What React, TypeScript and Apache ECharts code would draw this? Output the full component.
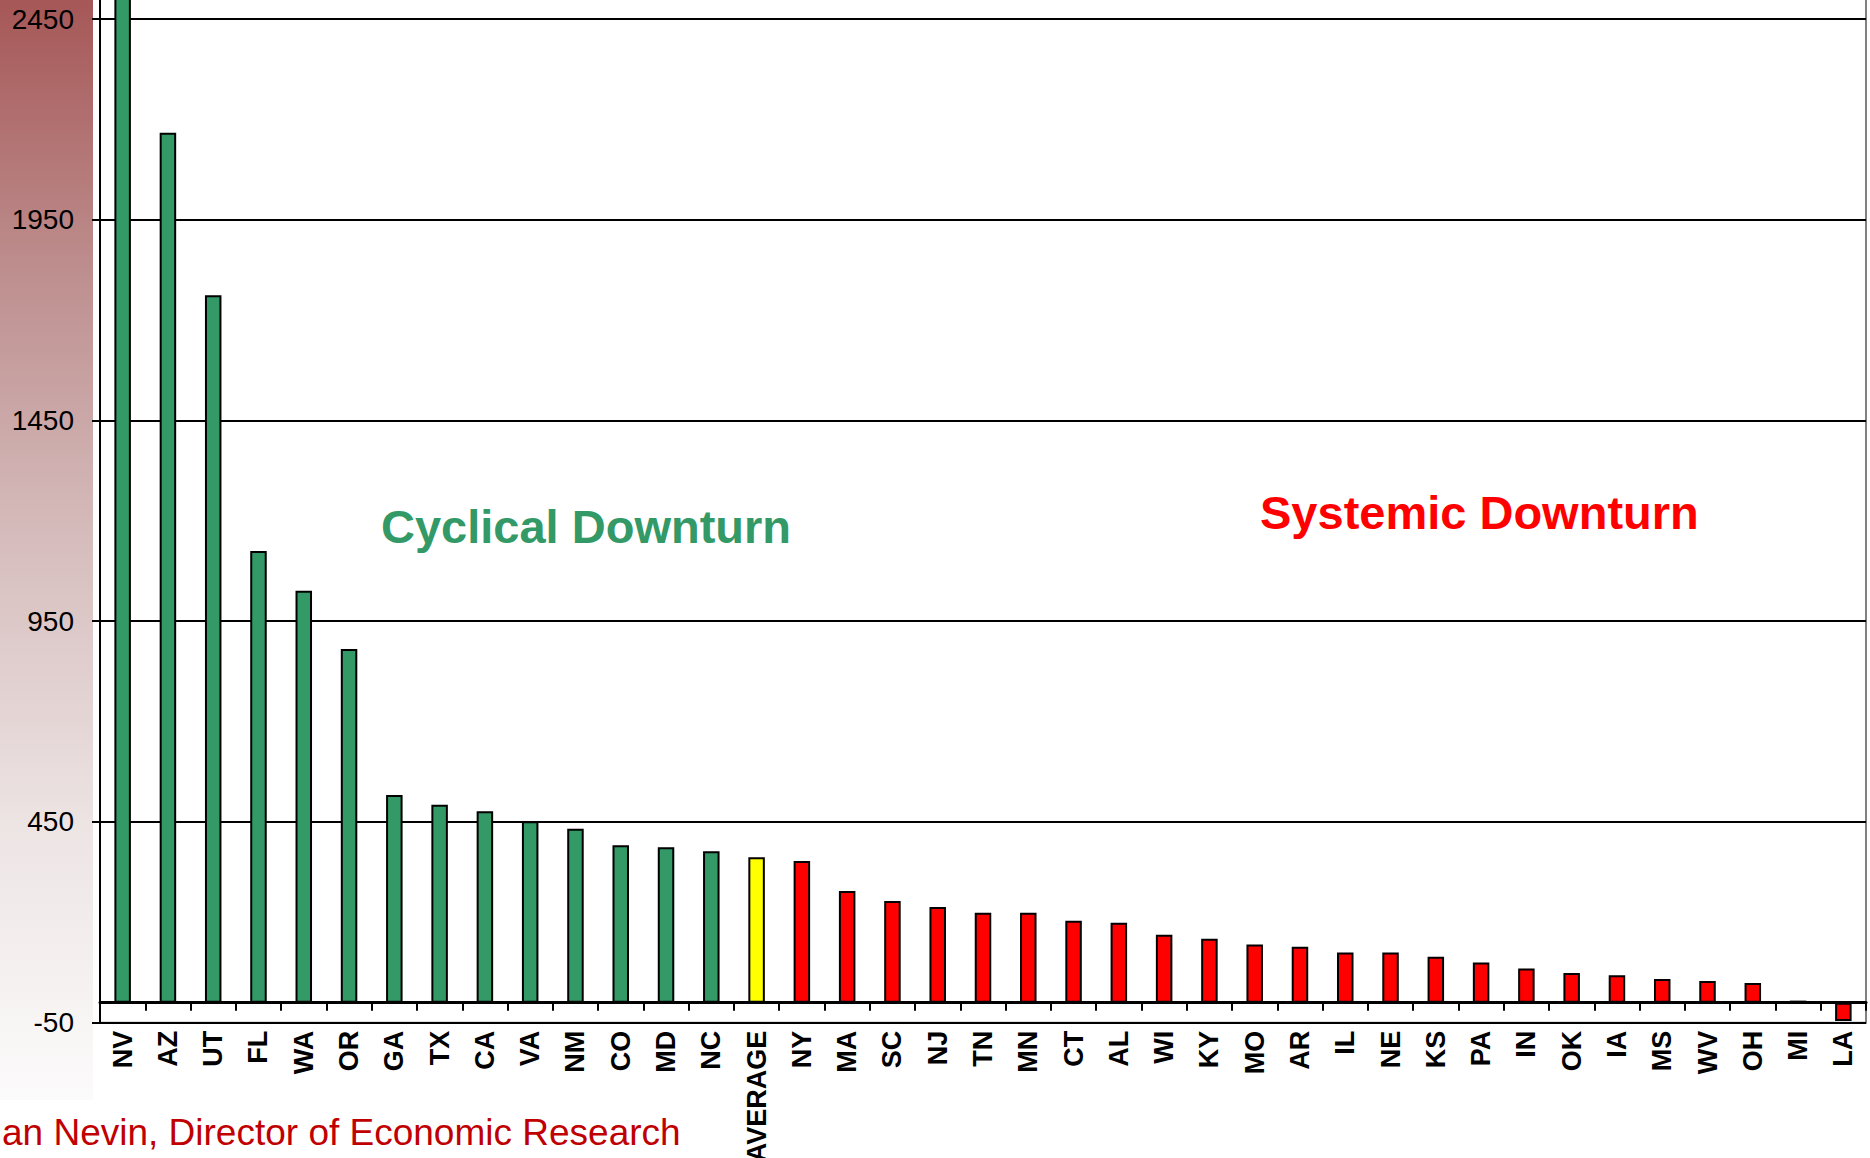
import React, { useEffect, useRef } from 'react';
import * as echarts from 'echarts';

// States whose downturn is cyclical, then the national average, then systemic ones
const cyclicalStates = ['NV', 'AZ', 'UT', 'FL', 'WA', 'OR', 'GA', 'TX', 'CA', 'VA', 'NM', 'CO', 'MD', 'NC'];
const cyclicalValues = [2700, 2167, 1762, 1125, 1026, 881, 517, 493, 477, 452, 433, 392, 387, 377];

const averageLabel = 'AVERAGE';
const averageValue = 362;

const systemicStates = [
  'NY', 'MA', 'SC', 'NJ', 'TN', 'MN', 'CT', 'AL', 'WI', 'KY', 'MO', 'AR',
  'IL', 'NE', 'KS', 'PA', 'IN', 'OK', 'IA', 'MS', 'WV', 'OH', 'MI', 'LA',
];
const systemicValues = [
  353, 278, 253, 238, 224, 224, 204, 199, 169, 159, 145, 139,
  125, 125, 114, 100, 85, 74, 68, 59, 54, 49, 5, -46,
];

const yTickValues = [-50, 450, 950, 1450, 1950, 2450];

const GREEN = '#339966';
const YELLOW = '#FFFF00';
const RED = '#FF0000';
const FONT = '"Liberation Sans", Arial, Helvetica, sans-serif';

export default function App() {
  const ref = useRef<HTMLDivElement>(null);

  useEffect(() => {
    if (!ref.current) return;
    const chart = echarts.init(ref.current, null, { renderer: 'svg' });

    const categories = [...cyclicalStates, averageLabel, ...systemicStates];
    const barData = [
      ...cyclicalValues.map((v) => ({ value: v, itemStyle: { color: GREEN } })),
      { value: averageValue, itemStyle: { color: YELLOW } },
      ...systemicValues.map((v) => ({ value: v, itemStyle: { color: RED } })),
    ];

    chart.setOption({
      animation: false,
      backgroundColor: '#ffffff',
      grid: {
        left: 100,
        right: 4,
        top: -181.7,
        bottom: 135.3,
        show: true,
        backgroundColor: 'transparent',
        borderColor: '#808080',
        borderWidth: 2,
        containLabel: false,
        outerBoundsMode: 'none',
      },
      graphic: [
        {
          type: 'rect',
          z: -10,
          shape: { x: 0, y: 0, width: 93, height: 1100 },
          style: {
            fill: {
              type: 'linear',
              x: 0, y: 0, x2: 0, y2: 1,
              colorStops: [
                { offset: 0, color: '#A65757' },
                { offset: 0.25, color: '#BE8F8F' },
                { offset: 0.5, color: '#D7BEBE' },
                { offset: 0.75, color: '#EDE4E4' },
                { offset: 1, color: '#FCFBFB' },
              ],
            },
          },
        },
        {
          type: 'text',
          z: 100,
          x: 381,
          y: 526,
          style: {
            text: 'Cyclical Downturn',
            font: `bold 47px ${FONT}`,
            fill: GREEN,
            verticalAlign: 'middle',
          },
        },
        {
          type: 'text',
          z: 100,
          x: 1260,
          y: 512,
          style: {
            text: 'Systemic Downturn',
            font: `bold 47px ${FONT}`,
            fill: RED,
            verticalAlign: 'middle',
          },
        },
        {
          type: 'text',
          z: 100,
          x: 2,
          y: 1132,
          style: {
            text: 'an Nevin, Director of Economic Research',
            font: `37px ${FONT}`,
            fill: '#C00000',
            verticalAlign: 'middle',
          },
        },
      ],
      xAxis: {
        type: 'category',
        data: categories,
        boundaryGap: true,
        axisLine: { show: true, onZero: true, lineStyle: { color: '#000', width: 3 } },
        axisTick: { show: true, length: 8, alignWithLabel: false, lineStyle: { color: '#000', width: 2 } },
        axisLabel: {
          show: true,
          interval: 0,
          rotate: 90,
          margin: 8,
          color: '#000',
          fontFamily: FONT,
          fontWeight: 'bold',
          fontSize: 27,
        },
        splitLine: { show: false },
      },
      yAxis: {
        type: 'value',
        min: -50,
        max: 2950,
        axisLine: { show: true, lineStyle: { color: '#000', width: 2 } },
        axisTick: {
          show: true,
          inside: false,
          length: 8,
          customValues: yTickValues,
          lineStyle: { color: '#000', width: 2 },
        },
        axisLabel: {
          show: true,
          customValues: yTickValues,
          formatter: (v: number) => String(v),
          margin: 26,
          color: '#000',
          fontFamily: FONT,
          fontSize: 28,
        },
        splitLine: { show: true, lineStyle: { color: '#000', width: 2 } },
      },
      series: [
        {
          type: 'bar',
          data: barData,
          barWidth: 16.5,
          itemStyle: { borderColor: '#000', borderWidth: 2 },
          z: 3,
        },
      ],
    });

    return () => chart.dispose();
  }, []);

  return (
    <div
      ref={ref}
      style={{ position: 'fixed', left: 0, top: 0, width: 1870, height: 1158, background: '#fff' }}
    />
  );
}
